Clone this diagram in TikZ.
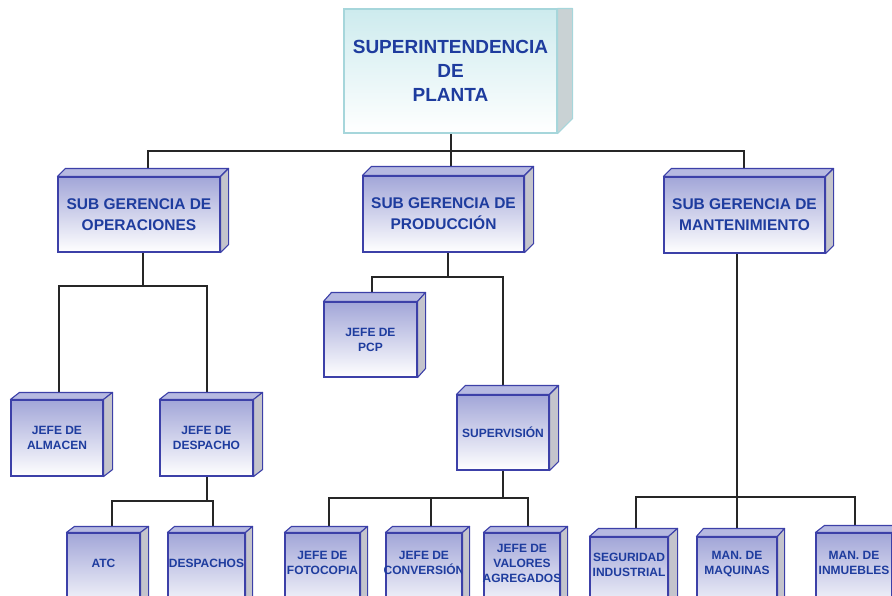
\documentclass[tikz,border=0pt]{standalone}
\usepackage{fontspec}
\setmainfont{Liberation Sans}
\pgfdeclarelayer{wires}
\pgfsetlayers{wires,main}

\definecolor{boxline}{HTML}{3C40A8}
\definecolor{facetop}{HTML}{A2A6D8}
\definecolor{topface}{HTML}{B6B9E1}
\definecolor{sideface}{HTML}{C4C4CC}
\definecolor{txt}{HTML}{1E3C9E}
\definecolor{suptop}{HTML}{CDEBEE}
\definecolor{supline}{HTML}{A6D6DB}
\definecolor{supside}{HTML}{C9D2D4}
\definecolor{wire}{HTML}{262626}

\tikzset{
  cube/.style={draw=boxline, line width=1.1pt, inner sep=0pt, align=center,
    top color=facetop, bottom color=white, text=txt},
  bigtext/.style={font=\bfseries\fontsize{19}{24}\selectfont},
  midtext/.style={font=\bfseries\fontsize{15.5}{21}\selectfont},
  smalltext/.style={font=\bfseries\fontsize{12}{15}\selectfont},
  capface/.style={draw=boxline, line width=1.1pt, line join=round, fill=topface},
  wallface/.style={draw=boxline, line width=1.1pt, line join=round, fill=sideface},
  link/.style={draw=wire, line width=1.9pt},
}

% top and right faces of a box whose front face is node #1, depth (#2,#3)
\newcommand\cubefaces[3]{%
  \filldraw[capface] (#1.north west) -- ++(#2pt,#3pt)
     -- ([shift={(#2pt,#3pt)}]#1.north east) -- (#1.north east) -- cycle;
  \filldraw[wallface] (#1.north east) -- ++(#2pt,#3pt)
     -- ([shift={(#2pt,#3pt)}]#1.south east) -- (#1.south east) -- cycle;
}

\begin{document}
\begin{tikzpicture}[x=1pt, y=-1pt]
\useasboundingbox (0,0) rectangle (892,595);
\clip (0,0) rectangle (892,595);

% head office
\node[cube, bigtext, draw=supline, top color=suptop, bottom color=white,
  minimum width=213, minimum height=124] (sup) at (450.5,71)
  {SUPERINTENDENCIA\\DE\\PLANTA};
\filldraw[draw=supline, line width=1.1pt, fill=supside, line join=round]
  (sup.north east) -- ++(15pt,0pt) -- ([shift={(15pt,15pt)}]sup.south east)
  -- (sup.south east) -- cycle;

% second level
\node[cube, midtext, minimum width=162, minimum height=75] (ope) at (139,214.5)
  {SUB GERENCIA DE\\OPERACIONES};
\node[cube, midtext, minimum width=161, minimum height=76] (pro) at (443.5,214)
  {SUB GERENCIA DE\\PRODUCCIÓN};
\node[cube, midtext, minimum width=161, minimum height=76] (man) at (744.5,215)
  {SUB GERENCIA DE\\MANTENIMIENTO};
\cubefaces{ope}{8}{8}
\cubefaces{pro}{9}{9}
\cubefaces{man}{8}{8}

% third level
\node[cube, smalltext, minimum width=92, minimum height=76] (alm) at (57,438)
  {JEFE DE\\ALMACEN};
\node[cube, smalltext, minimum width=93, minimum height=76] (des) at (206.5,438)
  {JEFE DE\\DESPACHO};
\node[cube, smalltext, minimum width=93, minimum height=75] (pcp) at (370.5,339.5)
  {JEFE DE\\PCP};
\node[cube, smalltext, minimum width=92, minimum height=75] (sv) at (503,432.5)
  {SUPERVISIÓN};
\cubefaces{alm}{9}{7}
\cubefaces{des}{9}{7}
\cubefaces{pcp}{8}{9}
\cubefaces{sv}{9}{9}

% bottom row
\node[cube, minimum width=73, minimum height=80,
  label={[smalltext, text=txt, align=center, yshift=10pt]center:ATC}] (atc) at (103.5,573) {};
\node[cube, minimum width=77, minimum height=80,
  label={[smalltext, text=txt, align=center, yshift=10pt]center:DESPACHOS}] (dsp) at (206.5,573) {};
\node[cube, minimum width=75, minimum height=80,
  label={[smalltext, text=txt, align=center, yshift=10pt]center:JEFE DE\\FOTOCOPIA}] (fot) at (322.5,573) {};
\node[cube, minimum width=76, minimum height=80,
  label={[smalltext, text=txt, align=center, yshift=10pt]center:JEFE DE\\CONVERSIÓN}] (con) at (424,573) {};
\node[cube, minimum width=76, minimum height=80,
  label={[smalltext, text=txt, align=center, yshift=10pt]center:JEFE DE\\VALORES\\AGREGADOS}] (val) at (522,573) {};
\node[cube, minimum width=78, minimum height=80,
  label={[smalltext, text=txt, align=center, yshift=12.5pt]center:SEGURIDAD\\INDUSTRIAL}] (seg) at (629,577) {};
\node[cube, minimum width=80, minimum height=80,
  label={[smalltext, text=txt, align=center, yshift=12.5pt]center:MAN. DE\\MAQUINAS}] (maq) at (737,577) {};
\node[cube, minimum width=76, minimum height=80,
  label={[smalltext, text=txt, align=center, yshift=10pt]center:MAN. DE\\INMUEBLES}] (inm) at (854,573) {};
\cubefaces{atc}{8}{6}
\cubefaces{dsp}{7}{6}
\cubefaces{fot}{7}{6}
\cubefaces{con}{7}{6}
\cubefaces{val}{7}{6}
\cubefaces{seg}{9}{8}
\cubefaces{maq}{7}{8}
\cubefaces{inm}{9}{7}

% connectors: each parent drops to a bus, each child rises to it
\begin{pgfonlayer}{wires}
  \coordinate (sup-out) at ([xshift=0.5pt]sup.south);
  \path (sup-out) ++(0,17) coordinate (sup-bus);
  \draw[link] (sup-out) -- (sup-bus);
  \draw[link] ([xshift=9pt]ope.north) |- (sup-bus);
  \draw[link] ([xshift=7.5pt]pro.north) |- (sup-bus);
  \draw[link] ([xshift=-0.5pt]man.north) |- (sup-bus);

  \coordinate (ope-out) at ([xshift=4pt]ope.south);
  \path (ope-out) ++(0,33) coordinate (ope-bus);
  \draw[link] (ope-out) -- (ope-bus);
  \draw[link] ([xshift=2pt]alm.north) |- (ope-bus);
  \draw[link] ([xshift=0.5pt]des.north) |- (ope-bus);

  \coordinate (des-out) at ([xshift=0.5pt]des.south);
  \path (des-out) ++(0,24) coordinate (des-bus);
  \draw[link] (des-out) -- (des-bus);
  \draw[link] ([xshift=8.5pt]atc.north) |- (des-bus);
  \draw[link] ([xshift=6.5pt]dsp.north) |- (des-bus);

  \coordinate (pro-out) at ([xshift=4.5pt]pro.south);
  \path (pro-out) ++(0,24) coordinate (pro-bus);
  \draw[link] (pro-out) -- (pro-bus);
  \draw[link] ([xshift=1.5pt]pcp.north) |- (pro-bus);
  \draw[link] (sv.north) |- (pro-bus);

  \coordinate (sv-out) at (sv.south);
  \path (sv-out) ++(0,27) coordinate (sv-bus);
  \draw[link] (sv-out) -- (sv-bus);
  \draw[link] ([xshift=6.5pt]fot.north) |- (sv-bus);
  \draw[link] ([xshift=7pt]con.north) |- (sv-bus);
  \draw[link] ([xshift=6pt]val.north) |- (sv-bus);

  \coordinate (man-out) at ([xshift=-7.5pt]man.south);
  \path (man-out) ++(0,243) coordinate (man-bus);
  \draw[link] (man-out) -- (man-bus);
  \draw[link] ([xshift=7pt]seg.north) |- (man-bus);
  \draw[link] (maq.north) |- (man-bus);
  \draw[link] ([xshift=1pt]inm.north) |- (man-bus);
\end{pgfonlayer}
\end{tikzpicture}
\end{document}
